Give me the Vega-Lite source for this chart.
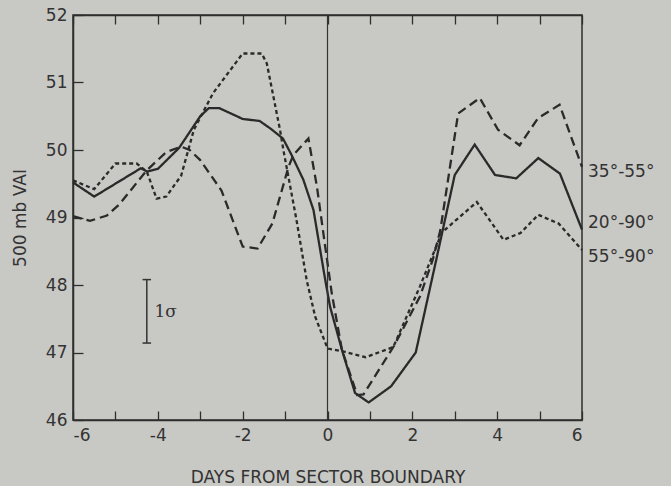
{
  "$schema": "https://vega.github.io/schema/vega-lite/v6.json",
  "width": 509,
  "height": 405,
  "autosize": {"type": "none"},
  "padding": {"left": 73, "top": 15, "right": 89, "bottom": 66},
  "background": "#c8c8c4",
  "config": {
    "view": {"stroke": "#2e2e2e", "strokeWidth": 1.5},
    "font": "DejaVu Sans",
    "axis": {
      "grid": false,
      "domainColor": "#2e2e2e",
      "domainWidth": 1.5,
      "tickColor": "#2e2e2e",
      "tickWidth": 1.3,
      "labelColor": "#333333",
      "labelFont": "DejaVu Sans",
      "labelFontSize": 17,
      "titleColor": "#333333",
      "titleFont": "DejaVu Sans",
      "titleFontSize": 17,
      "titleFontWeight": "normal"
    }
  },
  "datasets": {
    "curves": [
      {"series": "20°-90°", "day": -6, "vai": 49.52},
      {"series": "20°-90°", "day": -5.5, "vai": 49.31},
      {"series": "20°-90°", "day": -4.4, "vai": 49.73},
      {"series": "20°-90°", "day": -4.25, "vai": 49.68},
      {"series": "20°-90°", "day": -4.0, "vai": 49.72},
      {"series": "20°-90°", "day": -3.5, "vai": 50.03},
      {"series": "20°-90°", "day": -3.0, "vai": 50.5},
      {"series": "20°-90°", "day": -2.8, "vai": 50.62},
      {"series": "20°-90°", "day": -2.55, "vai": 50.62},
      {"series": "20°-90°", "day": -2.0, "vai": 50.46},
      {"series": "20°-90°", "day": -1.6, "vai": 50.43},
      {"series": "20°-90°", "day": -1.35, "vai": 50.32},
      {"series": "20°-90°", "day": -1.05, "vai": 50.17},
      {"series": "20°-90°", "day": -0.85, "vai": 49.93},
      {"series": "20°-90°", "day": -0.57, "vai": 49.56},
      {"series": "20°-90°", "day": -0.33, "vai": 49.11},
      {"series": "20°-90°", "day": -0.06, "vai": 48.1},
      {"series": "20°-90°", "day": 0.06, "vai": 47.68},
      {"series": "20°-90°", "day": 0.34, "vai": 47.04},
      {"series": "20°-90°", "day": 0.65, "vai": 46.4},
      {"series": "20°-90°", "day": 0.97, "vai": 46.26},
      {"series": "20°-90°", "day": 1.5, "vai": 46.5},
      {"series": "20°-90°", "day": 2.08, "vai": 47.0},
      {"series": "20°-90°", "day": 2.58, "vai": 48.42},
      {"series": "20°-90°", "day": 3.0, "vai": 49.63},
      {"series": "20°-90°", "day": 3.47, "vai": 50.08},
      {"series": "20°-90°", "day": 3.95, "vai": 49.63},
      {"series": "20°-90°", "day": 4.45, "vai": 49.58},
      {"series": "20°-90°", "day": 4.97, "vai": 49.88},
      {"series": "20°-90°", "day": 5.48, "vai": 49.65},
      {"series": "20°-90°", "day": 6.0, "vai": 48.82},
      {"series": "35°-55°", "day": -6, "vai": 49.02},
      {"series": "35°-55°", "day": -5.6, "vai": 48.95},
      {"series": "35°-55°", "day": -5.2, "vai": 49.03},
      {"series": "35°-55°", "day": -4.9, "vai": 49.2},
      {"series": "35°-55°", "day": -4.26, "vai": 49.7},
      {"series": "35°-55°", "day": -3.8, "vai": 49.97},
      {"series": "35°-55°", "day": -3.45, "vai": 50.05},
      {"series": "35°-55°", "day": -3.25, "vai": 50.0},
      {"series": "35°-55°", "day": -3.0, "vai": 49.85},
      {"series": "35°-55°", "day": -2.5, "vai": 49.4},
      {"series": "35°-55°", "day": -2.0, "vai": 48.57},
      {"series": "35°-55°", "day": -1.65, "vai": 48.54},
      {"series": "35°-55°", "day": -1.3, "vai": 48.91},
      {"series": "35°-55°", "day": -0.92, "vai": 49.75},
      {"series": "35°-55°", "day": -0.8, "vai": 49.93},
      {"series": "35°-55°", "day": -0.45, "vai": 50.17},
      {"series": "35°-55°", "day": -0.25, "vai": 49.46},
      {"series": "35°-55°", "day": -0.05, "vai": 48.55},
      {"series": "35°-55°", "day": 0.1, "vai": 47.88},
      {"series": "35°-55°", "day": 0.34, "vai": 47.04},
      {"series": "35°-55°", "day": 0.7, "vai": 46.37},
      {"series": "35°-55°", "day": 0.85, "vai": 46.38},
      {"series": "35°-55°", "day": 1.57, "vai": 47.1},
      {"series": "35°-55°", "day": 2.18, "vai": 47.83},
      {"series": "35°-55°", "day": 2.48, "vai": 48.37},
      {"series": "35°-55°", "day": 2.66, "vai": 48.81},
      {"series": "35°-55°", "day": 3.08, "vai": 50.54},
      {"series": "35°-55°", "day": 3.59, "vai": 50.77},
      {"series": "35°-55°", "day": 4.02, "vai": 50.3},
      {"series": "35°-55°", "day": 4.53, "vai": 50.07},
      {"series": "35°-55°", "day": 4.96, "vai": 50.47},
      {"series": "35°-55°", "day": 5.47, "vai": 50.67},
      {"series": "35°-55°", "day": 6.0, "vai": 49.75},
      {"series": "55°-90°", "day": -6, "vai": 49.55},
      {"series": "55°-90°", "day": -5.5, "vai": 49.42},
      {"series": "55°-90°", "day": -5.0, "vai": 49.8},
      {"series": "55°-90°", "day": -4.5, "vai": 49.8},
      {"series": "55°-90°", "day": -4.26, "vai": 49.68},
      {"series": "55°-90°", "day": -4.03, "vai": 49.28},
      {"series": "55°-90°", "day": -3.8, "vai": 49.31},
      {"series": "55°-90°", "day": -3.45, "vai": 49.62},
      {"series": "55°-90°", "day": -3.15, "vai": 50.3},
      {"series": "55°-90°", "day": -2.7, "vai": 50.84},
      {"series": "55°-90°", "day": -2.0, "vai": 51.43},
      {"series": "55°-90°", "day": -1.55, "vai": 51.43},
      {"series": "55°-90°", "day": -1.43, "vai": 51.28},
      {"series": "55°-90°", "day": -1.12, "vai": 50.3},
      {"series": "55°-90°", "day": -1.04, "vai": 50.0},
      {"series": "55°-90°", "day": -0.73, "vai": 48.96},
      {"series": "55°-90°", "day": -0.49, "vai": 48.07},
      {"series": "55°-90°", "day": -0.29, "vai": 47.53},
      {"series": "55°-90°", "day": 0.0, "vai": 47.06},
      {"series": "55°-90°", "day": 0.35, "vai": 47.02},
      {"series": "55°-90°", "day": 0.9, "vai": 46.93},
      {"series": "55°-90°", "day": 1.55, "vai": 47.08},
      {"series": "55°-90°", "day": 2.18, "vai": 47.98},
      {"series": "55°-90°", "day": 2.7, "vai": 48.78},
      {"series": "55°-90°", "day": 3.52, "vai": 49.23},
      {"series": "55°-90°", "day": 4.15, "vai": 48.67},
      {"series": "55°-90°", "day": 4.55, "vai": 48.77},
      {"series": "55°-90°", "day": 4.97, "vai": 49.04},
      {"series": "55°-90°", "day": 5.45, "vai": 48.91},
      {"series": "55°-90°", "day": 6.0, "vai": 48.52}
    ],
    "labels": [
      {"label": "35°-55°", "day": 6, "vai": 49.67},
      {"label": "20°-90°", "day": 6, "vai": 48.92},
      {"label": "55°-90°", "day": 6, "vai": 48.41}
    ],
    "sigma": [{"day": -4.26, "vai": 47.14, "hi": 48.08}],
    "caps": [
      {"x1": -4.36, "x2": -4.16, "vai": 48.08},
      {"x1": -4.36, "x2": -4.16, "vai": 47.14}
    ],
    "sigmalabel": [{"day": -4.08, "vai": 47.6, "text": "1σ"}],
    "zero": [{"day": 0}]
  },
  "layer": [
    {
      "data": {"name": "curves"},
      "mark": {"type": "line", "color": "#2a2a2a", "strokeWidth": 2.3},
      "encoding": {
        "x": {
          "field": "day",
          "type": "quantitative",
          "scale": {"domain": [-6, 6], "nice": false, "zero": false},
          "axis": {
            "orient": "bottom",
            "values": [-6, -5, -4, -3, -2, -1, 0, 1, 2, 3, 4, 5, 6],
            "labelExpr": "datum.value % 2 === 0 ? toString(datum.value) : ''",
            "tickSize": -9,
            "labelPadding": 16,
            "title": "DAYS FROM SECTOR BOUNDARY",
            "titlePadding": 26
          }
        },
        "y": {
          "field": "vai",
          "type": "quantitative",
          "scale": {"domain": [46, 52], "nice": false, "zero": false},
          "axis": {
            "orient": "left",
            "values": [46, 46.5, 47, 47.5, 48, 48.5, 49, 49.5, 50, 50.5, 51, 51.5, 52],
            "labelExpr": "datum.value % 1 === 0 ? toString(datum.value) : ''",
            "tickSize": -10,
            "labelPadding": 16,
            "title": "500 mb VAI",
            "titlePadding": 16
          }
        },
        "strokeDash": {
          "field": "series",
          "type": "nominal",
          "scale": {"domain": ["20°-90°", "35°-55°", "55°-90°"], "range": [[1, 0], [9, 5], [4, 3]]},
          "legend": null
        }
      }
    },
    {
      "data": {"name": "zero"},
      "mark": {"type": "rule", "color": "#333333", "strokeWidth": 1.2},
      "encoding": {
        "x": {
          "field": "day",
          "type": "quantitative",
          "axis": {
            "orient": "top",
            "values": [-6, -5, -4, -3, -2, -1, 0, 1, 2, 3, 4, 5, 6],
            "labels": false,
            "title": null,
            "tickSize": -9
          }
        }
      }
    },
    {
      "data": {"name": "sigma"},
      "mark": {"type": "rule", "color": "#333333", "strokeWidth": 1.5},
      "encoding": {
        "x": {"field": "day", "type": "quantitative", "axis": null},
        "y": {"field": "vai", "type": "quantitative"},
        "y2": {"field": "hi"}
      }
    },
    {
      "data": {"name": "caps"},
      "mark": {"type": "rule", "color": "#333333", "strokeWidth": 1.5},
      "encoding": {
        "x": {"field": "x1", "type": "quantitative", "axis": null},
        "x2": {"field": "x2"},
        "y": {"field": "vai", "type": "quantitative"}
      }
    },
    {
      "data": {"name": "sigmalabel"},
      "mark": {"type": "text", "align": "left", "baseline": "middle", "font": "DejaVu Serif", "fontSize": 17, "color": "#333333"},
      "encoding": {
        "x": {"field": "day", "type": "quantitative", "axis": null},
        "y": {"field": "vai", "type": "quantitative"},
        "text": {"field": "text"}
      }
    },
    {
      "data": {"name": "labels"},
      "mark": {"type": "text", "align": "left", "baseline": "middle", "dx": 6, "fontSize": 17, "color": "#333333"},
      "encoding": {
        "x": {"field": "day", "type": "quantitative", "axis": null},
        "y": {"field": "vai", "type": "quantitative"},
        "text": {"field": "label"}
      }
    }
  ],
  "resolve": {"axis": {"x": "independent"}}
}
